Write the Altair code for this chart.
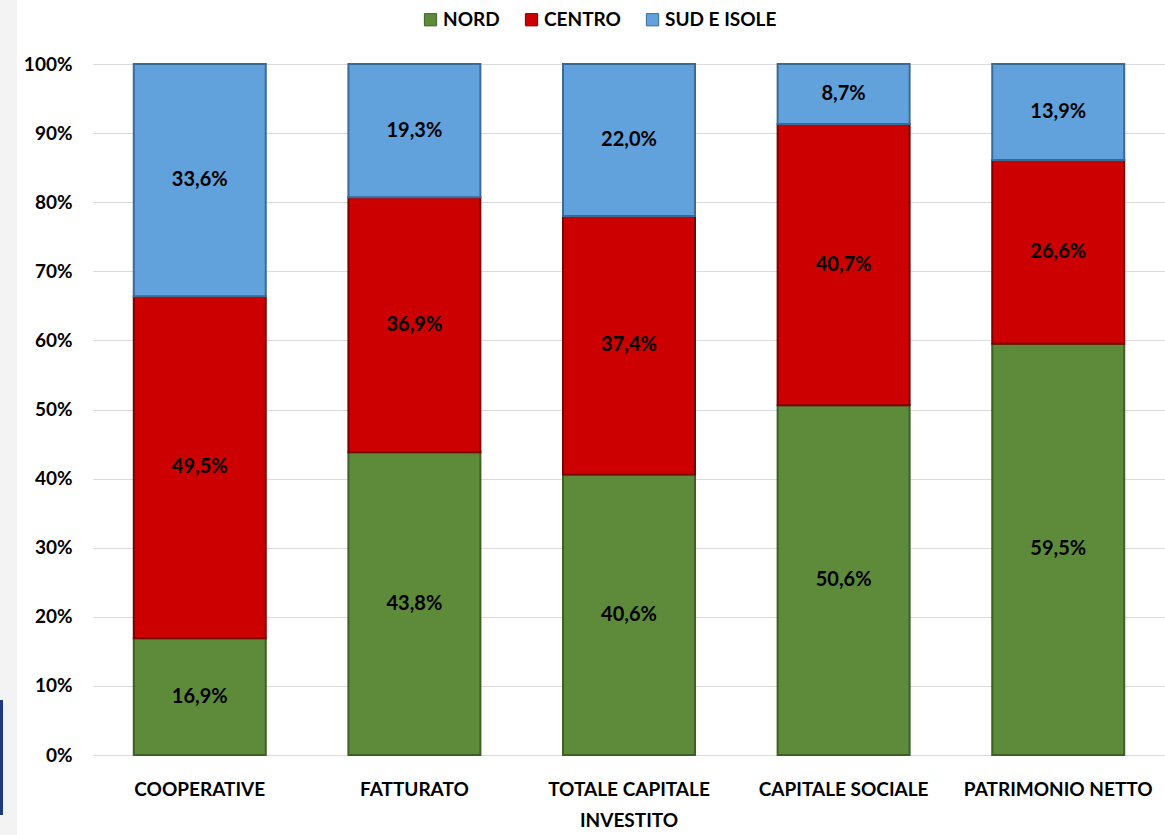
import altair as alt
import pandas as pd

categories = ["COOPERATIVE", "FATTURATO", "TOTALE CAPITALE|INVESTITO", "CAPITALE SOCIALE", "PATRIMONIO NETTO"]
series = ["NORD", "CENTRO", "SUD E ISOLE"]
nord = [16.9, 43.8, 40.6, 50.6, 59.5]
centro = [49.5, 36.9, 37.4, 40.7, 26.6]
sud = [33.6, 19.3, 22.0, 8.7, 13.9]
colors = ["#5E8B3A", "#CC0000", "#62A2DC"]
strokes = ["#3E6024", "#7A0000", "#3B6A96"]

rows = []
for i, c in enumerate(categories):
    for j, (s, vals) in enumerate(zip(series, [nord, centro, sud])):
        rows.append({"cat": c, "serie": s, "ord": j, "v": vals[i] / 100})
df = pd.DataFrame(rows)

FONT = "Lato"

base = alt.Chart(df).encode(
    x=alt.X("cat:N", sort=categories, title=None,
            scale=alt.Scale(paddingInner=0.385, paddingOuter=0.19),
            axis=alt.Axis(labelExpr="split(datum.label, '|')", labelAngle=0, labelLimit=0,
                          labelFont=FONT, labelFontSize=19, labelFontWeight="bold",
                          labelColor="#000000", labelPadding=25, labelLineHeight=31,
                          domain=False, ticks=False, grid=False)),
)

bars = base.mark_bar(strokeWidth=2).encode(
    y=alt.Y("v:Q", stack="zero", title=None,
            scale=alt.Scale(domain=[0, 1], nice=False),
            axis=alt.Axis(format=".0%", values=[i / 10 for i in range(11)],
                          labelFont=FONT, labelFontSize=19, labelFontWeight="bold",
                          labelColor="#000000", labelPadding=21,
                          domain=False, ticks=False, gridColor="#D9D9D9", gridWidth=1)),
    color=alt.Color("serie:N", sort=series, title=None,
                    scale=alt.Scale(domain=series, range=colors),
                    legend=alt.Legend(orient="none", legendX=328, legendY=-54, direction="horizontal",
                                      symbolType="square", symbolSize=150, symbolStrokeWidth=1,
                                      labelFont=FONT, labelFontSize=19, labelFontWeight="bold",
                                      labelColor="#000000", columnPadding=22, labelOffset=3,
                                      symbolOpacity=1)),
    stroke=alt.Stroke("serie:N", scale=alt.Scale(domain=series, range=strokes), legend=None),
    order=alt.Order("ord:Q"),
)

labels = base.transform_stack(
    stack="v", groupby=["cat"], as_=["y0", "y1"], sort=[alt.SortField("ord")]
).transform_calculate(
    mid="(datum.y0 + datum.y1) / 2",
    txt="replace(format(datum.v * 100, '.1f'), '.', ',') + '%'",
).mark_text(font=FONT, fontSize=20, fontWeight="bold", color="#000000").encode(
    y=alt.Y("mid:Q", scale=alt.Scale(domain=[0, 1], nice=False)),
    text="txt:N",
)

strip = alt.Chart(pd.DataFrame({"a": [0]})).mark_rect(color="#F3F3F3").encode(
    x=alt.value(-93), x2=alt.value(-76), y=alt.value(-64), y2=alt.value(771))
navy = alt.Chart(pd.DataFrame({"a": [0]})).mark_rect(color="#1F3A7A").encode(
    x=alt.value(-93), x2=alt.value(-90), y=alt.value(636), y2=alt.value(751))

chart = alt.layer(strip, navy, bars, labels).properties(
    width=1072, height=691,
    autosize=alt.AutoSizeParams(type="none"),
    padding={"left": 93, "top": 64, "right": 0, "bottom": 80},
    background="#FFFFFF",
).configure_view(stroke=None)

chart.save("out.html", embed_options={"renderer": "svg", "actions": False})
